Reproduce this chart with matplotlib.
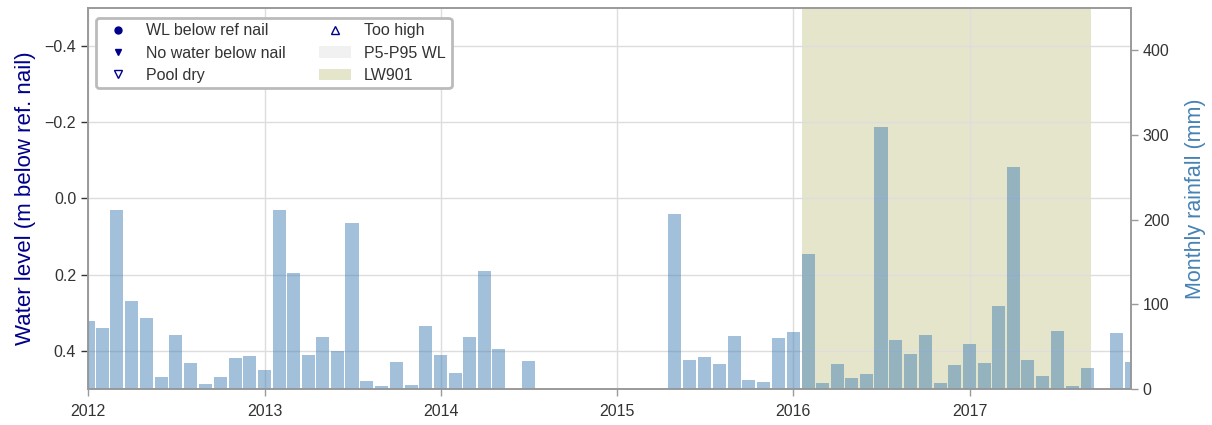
import matplotlib
matplotlib.use("Agg")
import matplotlib.pyplot as plt
import matplotlib.dates as mdates
from matplotlib.lines import Line2D
from matplotlib.patches import Patch
import pandas as pd

# monthly rainfall (mm), Jan 2012 .. Dec 2017
months = pd.date_range("2012-01-01", "2017-12-01", freq="MS")
rain_2012 = [80, 72, 212, 104, 84, 14, 64, 31, 6, 14, 37, 39]
rain_2013 = [22, 211, 137, 40, 62, 45, 196, 9, 4, 32, 5, 75]
rain_2014 = [40, 19, 62, 139, 47, 0, 33, 0, 0, 0, 0, 0]
rain_2015 = [0, 0, 0, 0, 207, 34, 38, 30, 63, 11, 8, 60]
rain_2016 = [67, 160, 7, 29, 13, 18, 309, 58, 41, 64, 7, 28]
rain_2017 = [53, 31, 98, 262, 34, 15, 69, 3, 25, 0, 66, 32]
rain = rain_2012 + rain_2013 + rain_2014 + rain_2015 + rain_2016 + rain_2017

lw901_start, lw901_end = pd.Timestamp("2016-01-20"), pd.Timestamp("2017-09-10")
wl_ticks = [-0.4, -0.2, 0.0, 0.2, 0.4]
rain_ticks = [0, 100, 200, 300, 400]

NAVY = "#00008b"
RAINC = "steelblue"
SPINE = "#9a9a9a"
plt.rcParams["font.family"] = ["Liberation Sans", "DejaVu Sans"]
plt.rcParams["axes.unicode_minus"] = True

fig = plt.figure(figsize=(12.12, 4.25), dpi=100)
ax = fig.add_axes([0.0726, 0.0847, 0.8606, 0.8965])
ax2 = ax.twinx()

# mining panel shading + grid on the water level axis
ax.axvspan(lw901_start, lw901_end, color="olive", alpha=0.2, lw=0, zorder=0)
ax.set_ylim(0.5, -0.5)
ax.set_yticks(wl_ticks)
ax.set_ylabel("Water level (m below ref. nail)", color=NAVY, fontsize=16, labelpad=6)
ax.grid(True, color="#dddddd", lw=1)
ax.set_axisbelow(True)

# rainfall bars
ax2.bar(months, rain, width=27, color=RAINC, alpha=0.5, zorder=2)
ax2.set_ylim(0, 450)
ax2.set_yticks(rain_ticks)
ax2.set_ylabel("Monthly rainfall (mm)", color=RAINC, fontsize=15.5, labelpad=11)
ax2.grid(False)

ax.set_xlim(pd.Timestamp("2012-01-01"), pd.Timestamp("2017-12-01"))
ax.xaxis.set_major_locator(mdates.YearLocator())
ax.xaxis.set_major_formatter(mdates.DateFormatter("%Y"))

for a in (ax, ax2):
    for s in a.spines.values():
        s.set_color(SPINE)
        s.set_linewidth(1.2)
    a.tick_params(labelsize=11.5, colors="#333333", length=5, width=1)
    a.tick_params(axis="both", color=SPINE)
ax.tick_params(axis="y", color="#333333")
ax.tick_params(axis="x", pad=6)

handles = [
    Line2D([], [], ls="", marker="o", color=NAVY, ms=5),
    Line2D([], [], ls="", marker="v", color=NAVY, ms=5),
    Line2D([], [], ls="", marker="v", mfc="none", mec=NAVY, ms=6),
    Line2D([], [], ls="", marker="^", mfc="none", mec=NAVY, ms=6),
    Patch(color="lightgrey", alpha=0.3, lw=0),
    Patch(color="olive", alpha=0.2, lw=0),
]
labels = ["WL below ref nail", "No water below nail", "Pool dry",
          "Too high", "P5-P95 WL", "LW901"]
leg = ax2.legend(handles, labels, loc="upper left", ncol=2, fontsize=11.5,
                 frameon=True, edgecolor="#bbbbbb", framealpha=1, fancybox=True,
                 borderpad=0.35, labelspacing=0.45, columnspacing=2.1,
                 labelcolor="#333333", bbox_to_anchor=(0.0, 0.995))
leg.get_frame().set_linewidth(2)

fig.savefig("out.png", dpi=100, facecolor="white")
